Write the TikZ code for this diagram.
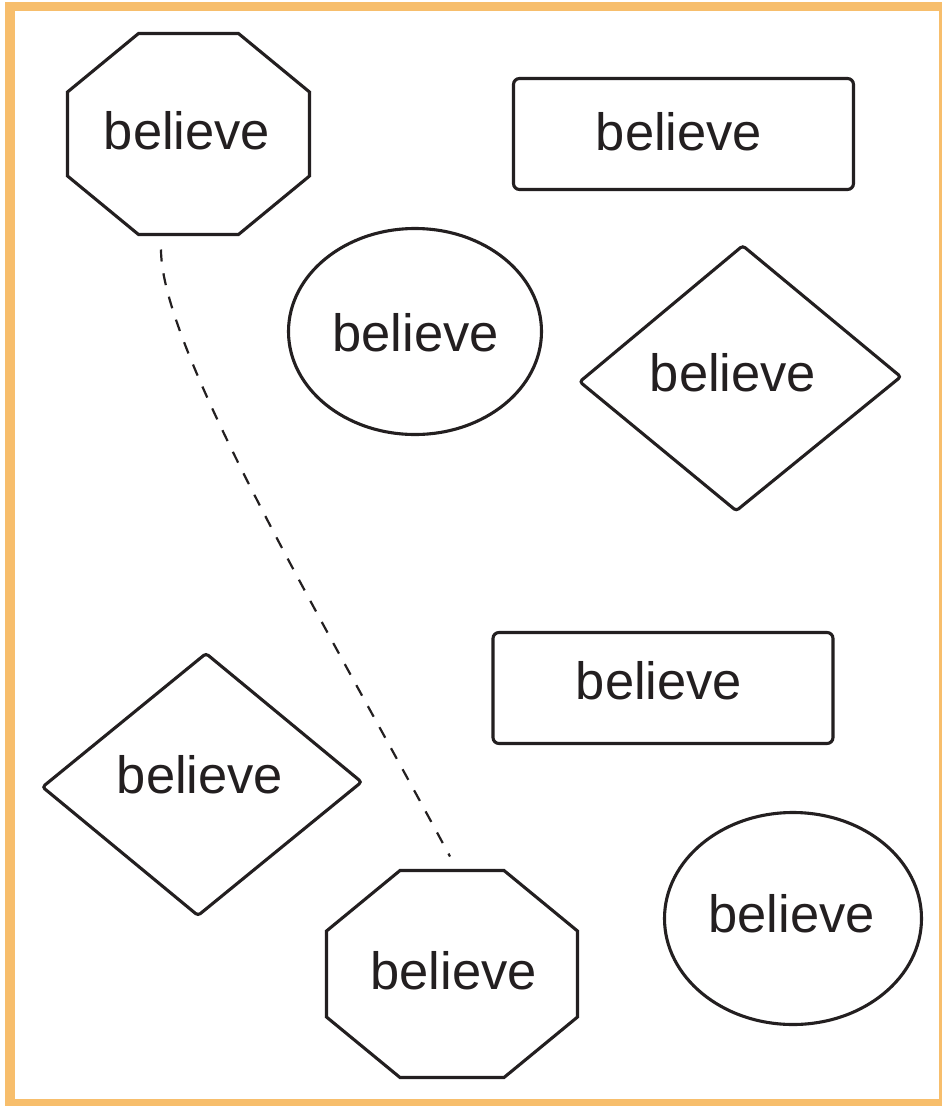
\documentclass[tikz,border=0pt]{standalone}
\usepackage{fontspec}
\setmainfont{Liberation Sans}
\usetikzlibrary{shapes.geometric,calc}
\definecolor{framecol}{RGB}{247,190,108}
\definecolor{ink}{RGB}{35,31,32}
\begin{document}
\begin{tikzpicture}[x=1pt,y=-1pt,
  shp/.style={draw=ink, line width=3.1pt, inner sep=0pt, outer sep=0pt},
  word/.style={font=\fontsize{52.5}{60}\selectfont, text=ink, inner sep=0pt, outer sep=0pt},
  boxshape/.style={shp, rectangle, rounded corners=6pt, minimum width=340pt, minimum height=111pt},
  ovalshape/.style={shp, ellipse},
  frameonly/.style={rectangle, inner sep=0pt, outer sep=0pt},
  link/.style={draw=ink, line width=2.2pt, dash pattern=on 12pt off 12pt}
]
\useasboundingbox (0,0) rectangle (942,1106);
\fill[white] (0,0) rectangle (942,1106);
\draw[framecol, line width=9.5pt] (10,6.5) rectangle (943.75,1103.75);

% rounded rectangles
\node[boxshape] (boxA) at (683.5,134) {};
\node[word] (boxAtext) at (679,131.5) {believe};
\node[boxshape] (boxB) at (663,688) {};
\node[word] (boxBtext) at (659,681) {believe};

% ellipses
\node[ovalshape, minimum width=253pt, minimum height=206pt] (ovalA) at (415,331.5) {};
\node[word] (ovalAtext) at (415.5,332.5) {believe};
\node[ovalshape, minimum width=257pt, minimum height=212pt] (ovalB) at (793,918.5) {};
\node[word] (ovalBtext) at (791.5,914) {believe};

% diamonds
\node[frameonly, minimum width=321pt, minimum height=265pt] (diaA) at (739.75,378.75) {};
\node[word] (diaAtext) at (733,373) {believe};
\draw[shp, rounded corners=3pt]
  ($(diaA)+(3,-133)$) -- ($(diaA)+(161,-2)$) -- ($(diaA)+(-3.5,132)$) -- ($(diaA)+(-160,3)$) -- cycle;
\node[frameonly, minimum width=319pt, minimum height=262pt] (diaB) at (202,784.5) {};
\node[word] (diaBtext) at (200,774.5) {believe};
\draw[shp, rounded corners=3pt]
  ($(diaB)+(4,-131)$) -- ($(diaB)+(159.5,-2.5)$) -- ($(diaB)+(-4,131)$) -- ($(diaB)+(-159.5,2.5)$) -- cycle;

% octagons
\node[frameonly, minimum width=242pt, minimum height=201pt] (octA) at (188.5,134) {};
\node[word] (octAtext) at (187,131) {believe};
\draw[shp, line join=miter]
  ($(octA.west)+(0,-42)$) -- ($(octA.north)+(-50,0)$) -- ($(octA.north)+(50,0)$)
  -- ($(octA.east)+(0,-42)$) -- ($(octA.east)+(0,42)$) -- ($(octA.south)+(50,0)$)
  -- ($(octA.south)+(-50,0)$) -- ($(octA.west)+(0,42)$) -- cycle;

\node[frameonly, minimum width=251pt, minimum height=207pt] (octB) at (452,974) {};
\node[word] (octBtext) at (453.5,970.5) {believe};
\draw[shp, line join=miter]
  ($(octB.west)+(0,-43)$) -- ($(octB.north)+(-52,0)$) -- ($(octB.north)+(52,0)$)
  -- ($(octB.east)+(0,-43)$) -- ($(octB.east)+(0,43)$) -- ($(octB.south)+(52,0)$)
  -- ($(octB.south)+(-52,0)$) -- ($(octB.west)+(0,43)$) -- cycle;

% dashed connector
\coordinate (linkStart) at ($(octA.south)+(-27.5,15)$);
\coordinate (linkEnd) at ($(octB.north)+(-2,-14)$);
\draw[link] (linkStart) .. controls ($(linkStart)+(0,100)$) and ($(linkEnd)+(-124,-231)$) .. (linkEnd);
\end{tikzpicture}
\end{document}
